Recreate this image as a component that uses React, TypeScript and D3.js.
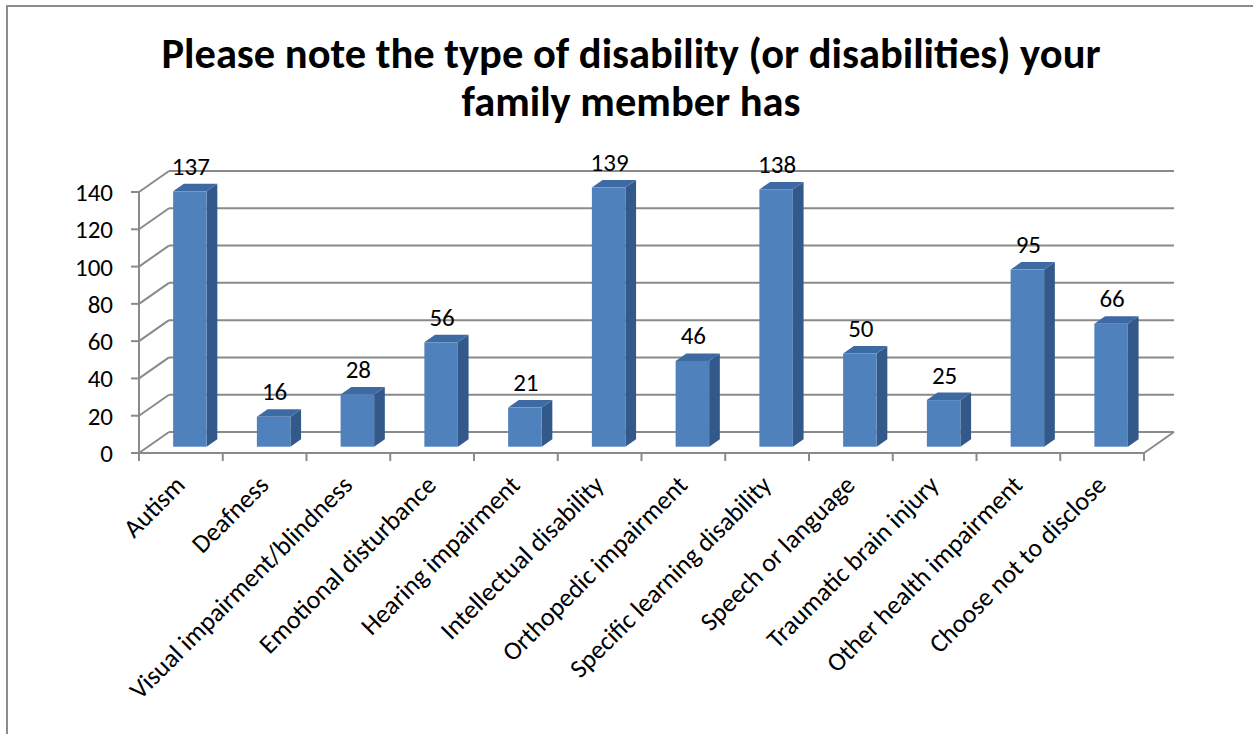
import React from "react";
import * as d3 from "d3";

const categories = [
  "Autism",
  "Deafness",
  "Visual impairment/blindness",
  "Emotional disturbance",
  "Hearing impairment",
  "Intellectual disability",
  "Orthopedic impairment",
  "Specific learning disability",
  "Speech or language",
  "Traumatic brain injury",
  "Other health impairment",
  "Choose not to disclose",
];
const values = [137, 16, 28, 56, 21, 139, 46, 138, 50, 25, 95, 66];
const yTicks = [0, 20, 40, 60, 80, 100, 120, 140];
const titleLines = [
  "Please note the type of disability (or disabilities) your",
  "family member has",
];

const W = 1253;
const H = 734;
const FONT = "Carlito, Calibri, Lato, 'Open Sans', sans-serif";

export default function App() {
  const x0 = 139;
  const x1 = 1144;
  const yFront0 = 453;
  const yFrontTop = 192;
  const depth = { dx: 30, dy: -21 };
  const barFront = 0.3;
  const barDepth = 0.357;

  const y = d3.scaleLinear().domain([0, 140]).range([yFront0, yFrontTop]);
  const x = d3
    .scaleBand<string>()
    .domain(categories)
    .range([x0, x1])
    .paddingInner(0.6)
    .paddingOuter(0.3);
  const step = x.step();
  const grid = "#8a8a8a";

  const fdx = depth.dx * barFront;
  const fdy = depth.dy * barFront;
  const bdx = depth.dx * barDepth;
  const bdy = depth.dy * barDepth;

  return (
    <svg
      width={W}
      height={H}
      style={{ position: "absolute", left: 0, top: 0, background: "#fff" }}
      fontFamily={FONT}
    >
      <rect x={7} y={6} width={1400} height={900} fill="#fff" stroke="#8c8c8c" strokeWidth={2} />
      {titleLines.map((t, i) => (
        <text
          key={i}
          x={631}
          y={68 + i * 48}
          textAnchor="middle"
          fontWeight="bold"
          fontSize={42.5}
          fill="#000"
        >
          {t}
        </text>
      ))}

      {/* back wall gridlines and left wall depth lines */}
      {yTicks.map((v) => (
        <g key={v}>
          <line
            x1={x0 + depth.dx}
            x2={x1 + depth.dx}
            y1={y(v) + depth.dy}
            y2={y(v) + depth.dy}
            stroke={grid}
            strokeWidth={2}
          />
          <line
            x1={x0}
            x2={x0 + depth.dx}
            y1={y(v)}
            y2={y(v) + depth.dy}
            stroke={grid}
            strokeWidth={2}
          />
          <line x1={x0 - 8} x2={x0} y1={y(v)} y2={y(v)} stroke={grid} strokeWidth={2} />
          <text
            x={113}
            y={y(v)}
            dy="0.36em"
            textAnchor="end"
            fontSize={25}
            fill="#000"
          >
            {v}
          </text>
        </g>
      ))}
      {/* floor right edge */}
      <line
        x1={x1}
        x2={x1 + depth.dx}
        y1={yFront0}
        y2={yFront0 + depth.dy}
        stroke={grid}
        strokeWidth={2}
      />
      {/* axes */}
      <line x1={x0} x2={x0} y1={yFront0} y2={yFrontTop} stroke={grid} strokeWidth={2} />
      <line x1={x0} x2={x1} y1={yFront0} y2={yFront0} stroke={grid} strokeWidth={2} />
      {d3.range(categories.length + 1).map((i) => (
        <line
          key={i}
          x1={x0 + i * step}
          x2={x0 + i * step}
          y1={yFront0}
          y2={yFront0 + 8}
          stroke={grid}
          strokeWidth={2}
        />
      ))}

      {/* bars */}
      {categories.map((c, i) => {
        const v = values[i];
        const bx0 = (x(c) as number) + fdx;
        const bx1 = bx0 + x.bandwidth();
        const yb = y(0) + fdy;
        const yt = y(v) + fdy;
        const top = `M${bx0},${yt}L${bx1},${yt}L${bx1 + bdx},${yt + bdy}L${bx0 + bdx},${yt + bdy}Z`;
        const side = `M${bx1},${yt}L${bx1 + bdx},${yt + bdy}L${bx1 + bdx},${yb + bdy}L${bx1},${yb}Z`;
        return (
          <g key={c}>
            <path d={side} fill="#33598a" />
            <path d={top} fill="#3e6aa3" />
            <rect x={bx0} y={yt} width={bx1 - bx0} height={yb - yt} fill="#4f81bd" />
            <text
              x={(bx0 + bx1) / 2 + 1}
              y={yt + bdy - 9}
              textAnchor="middle"
              fontSize={25}
              fill="#000"
            >
              {v}
            </text>
          </g>
        );
      })}

      {/* category labels */}
      {categories.map((c, i) => {
        const cx = x0 + (i + 0.5) * step - 1;
        const cy = 480;
        return (
          <text
            key={c}
            transform={`translate(${cx},${cy}) rotate(-45)`}
            textAnchor="end"
            dy="0.36em"
            fontSize={26}
            fill="#000"
          >
            {c}
          </text>
        );
      })}
    </svg>
  );
}
